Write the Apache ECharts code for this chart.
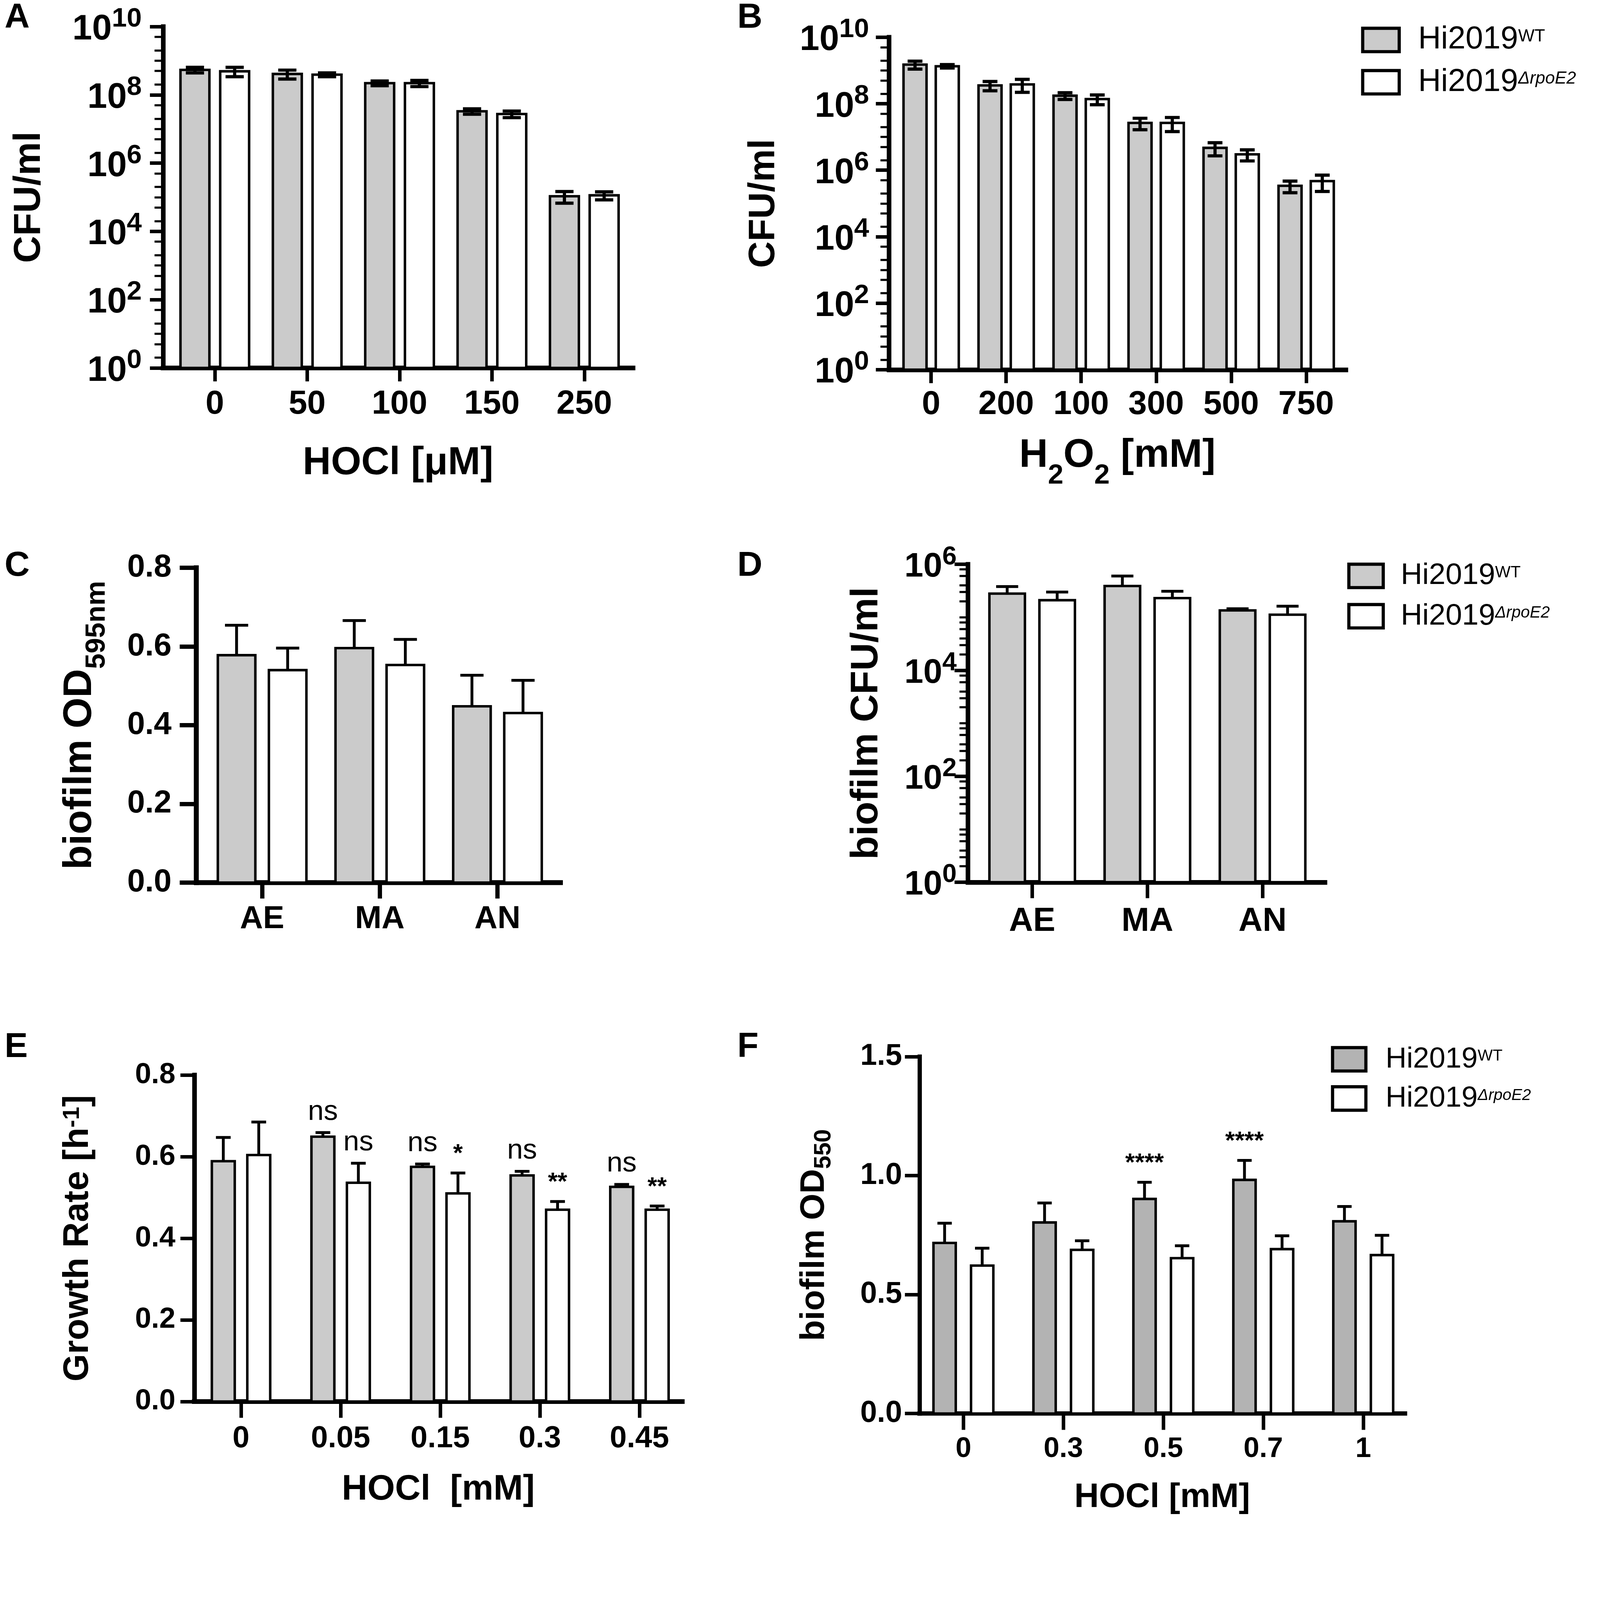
<!DOCTYPE html>
<html>
<head>
<meta charset="utf-8">
<title>Hi2019 stress panels</title>
<script src="https://cdn.jsdelivr.net/npm/echarts@6/dist/echarts.min.js"></script>
<style>
html, body { margin: 0; padding: 0; background: #fff; overflow: hidden; }
</style>
</head>
<body>
<div id="chart"></div>
<script>
var FONT = '"Liberation Sans", Arial, Helvetica, sans-serif';
var GRAY = '#cbcbcb';
var GRAY_F = '#b3b3b3';

// ---- data ----
var strainBase = 'Hi2019';
var strainTags = ['WT', 'ΔrpoE2'];
var strains = strainTags.map(function (t) { return strainBase + t; });

// A: HOCl [uM], CFU/ml
var dosesA = ['0', '50', '100', '150', '250'];
var wtA = [5.4e8, 4.1e8, 2.2e8, 3.3e7, 1.07e5];
var wtSdA = [1.0e8, 1.2e8, 0.35e8, 0.6e7, 0.4e5];
var koA = [4.9e8, 3.9e8, 2.2e8, 2.75e7, 1.14e5];
var koSdA = [1.5e8, 0.5e8, 0.45e8, 0.6e7, 0.3e5];

// B: H2O2 [mM], CFU/ml
var dosesB = ['0', '200', '100', '300', '500', '750'];
var wtB = [1.5e9, 3.55e8, 1.74e8, 2.65e7, 4.7e6, 3.4e5];
var wtSdB = [0.4e9, 1.1e8, 0.4e8, 1.0e7, 2.0e6, 1.3e5];
var koB = [1.34e9, 3.8e8, 1.38e8, 2.65e7, 3.0e6, 4.7e5];
var koSdB = [0.16e9, 1.6e8, 0.45e8, 1.2e7, 1.1e6, 2.4e5];

// C: biofilm OD595
var conditions = ['AE', 'MA', 'AN'];
var wtC = [0.578, 0.596, 0.448];
var wtSdC = [0.076, 0.070, 0.079];
var koC = [0.540, 0.553, 0.431];
var koSdC = [0.056, 0.065, 0.083];

// D: biofilm CFU/ml
var wtD = [2.8e5, 3.9e5, 1.35e5];
var wtSdD = [1.0e5, 2.1e5, 0.1e5];
var koD = [2.1e5, 2.3e5, 1.12e5];
var koSdD = [0.9e5, 0.8e5, 0.5e5];

// E: growth rate vs HOCl [mM]
var dosesE = ['0', '0.05', '0.15', '0.3', '0.45'];
var wtE = [0.589, 0.649, 0.575, 0.554, 0.526];
var wtSdE = [0.058, 0.010, 0.007, 0.010, 0.006];
var koE = [0.604, 0.536, 0.510, 0.470, 0.470];
var koSdE = [0.081, 0.048, 0.050, 0.020, 0.009];
var notesWtE = ['', 'ns', 'ns', 'ns', 'ns'];
var notesKoE = ['', 'ns', '*', '**', '**'];

// F: biofilm OD550 vs HOCl [mM]
var dosesF = ['0', '0.3', '0.5', '0.7', '1'];
var wtF = [0.717, 0.803, 0.902, 0.982, 0.808];
var wtSdF = [0.083, 0.082, 0.070, 0.082, 0.062];
var koF = [0.622, 0.688, 0.653, 0.691, 0.666];
var koSdF = [0.073, 0.038, 0.052, 0.056, 0.083];
var notesWtF = ['', '', '****', '****', ''];

var logTicksAB = [1, 1e2, 1e4, 1e6, 1e8, 1e10];
var logTicksD = [1, 1e2, 1e4, 1e6];

function minorTicks(maxExp, mantissas) {
    var out = [];
    for (var e = 0; e < maxExp; e++) {
        mantissas.forEach(function (m) { out.push(m * Math.pow(10, e)); });
        if (e % 2 === 0) out.push(Math.pow(10, e + 1));
    }
    return out;
}

// the figure is laid out on a 4514 x 4307 sheet and scaled to the window
var W0 = 4514, H0 = 4307;
var S = Math.min(window.innerWidth / W0, window.innerHeight / H0);
function z(v) { return v * S; }

var dom = document.getElementById('chart');
dom.style.width = Math.round(W0 * S) + 'px';
dom.style.height = Math.round(H0 * S) + 'px';

// ---- panel layout (sheet pixels) ----
var panels = [
    {L: 460, R: 1786, T: 75, B: 1038, t0: 606, step: 260.6, cats: dosesA, log: true, yMax: 1e10, ticks: logTicksAB,
     minor: minorTicks(10, [2, 5]), axisW: 13, tickW: 10, yTickLen: 37, xTickLen: 38, yLabMargin: 60, yLabSize: 100,
     xLabSize: 94, xLabMargin: 56, barW: 0.34, shift: 0.215, border: 7, errW: 9, both: true,
     wt: wtA, wtSd: wtSdA, ko: koA, koSd: koSdA, fill: GRAY,
     xName: 'HOCl [μM]', xNameSize: 110, xNameGap: 214,
     yName: 'CFU/ml', yNameSize: 106, yNameGap: 324},
    {L: 2508, R: 3797, T: 105, B: 1043, t0: 2627, step: 211.6, cats: dosesB, log: true, yMax: 1e10, ticks: logTicksAB,
     minor: minorTicks(10, [2, 5]), axisW: 13, tickW: 10, yTickLen: 37, xTickLen: 38, yLabMargin: 56, yLabSize: 100,
     xLabSize: 94, xLabMargin: 52, barW: 0.34, shift: 0.215, border: 7, errW: 9, both: true,
     wt: wtB, wtSd: wtSdB, ko: koB, koSd: koSdB, fill: GRAY,
     xName: '{m|H}{d|2}{m|O}{d|2}{m| [mM]}', xNameSize: 112, xNameGap: 187, xSubPad: 74,
     yName: 'CFU/ml', yNameSize: 104, yNameGap: 301},
    {L: 554, R: 1581, T: 1602, B: 2490, t0: 739.5, step: 332, cats: conditions, log: false, yMax: 0.8, interval: 0.2,
     axisW: 14, tickW: 12, yTickLen: 47, xTickLen: 45, yLabMargin: 70, yLabSize: 90,
     xLabSize: 90, xLabMargin: 58, barW: 0.34, shift: 0.217, border: 7, errW: 8, both: false,
     wt: wtC, wtSd: wtSdC, ko: koC, koSd: koSdC, fill: GRAY,
     yName: '{m|biofilm OD}{s|595nm}', yNameSize: 112, yNameGap: 241, ySubPad: 65},
    {L: 2731, R: 3738, T: 1592, B: 2489, t0: 2912, step: 325, cats: conditions, log: true, yMax: 1e6, ticks: logTicksD,
     minor: minorTicks(6, [2, 3, 4, 6, 8]), axisW: 13, tickW: 10, yTickLen: 38, xTickLen: 45, yLabMargin: 32, yLabSize: 96,
     xLabSize: 94, xLabMargin: 64, barW: 0.33, shift: 0.217, border: 7, errW: 8, both: false,
     wt: wtD, wtSd: wtSdD, ko: koD, koSd: koSdD, fill: GRAY,
     yName: 'biofilm CFU/ml', yNameSize: 109, yNameGap: 231},
    {L: 548, R: 1925, T: 3033, B: 3954, t0: 680, step: 281, cats: dosesE, log: false, yMax: 0.8, interval: 0.2,
     axisW: 13, tickW: 10, yTickLen: 39, xTickLen: 46, yLabMargin: 53, yLabSize: 82,
     xLabSize: 86, xLabMargin: 62, barW: 0.255, shift: 0.178, border: 7, errW: 8, both: false,
     wt: wtE, wtSd: wtSdE, ko: koE, koSd: koSdE, fill: GRAY, wtNotes: notesWtE, koNotes: notesKoE,
     xName: 'HOCl  [mM]', xNameSize: 100, xNameGap: 199,
     yName: '{n|Growth Rate [h}{p|-1}{n|]}', yNameSize: 100, yNameGap: 277},
    {L: 2594, R: 3964, T: 2981, B: 3988, t0: 2718, step: 282, cats: dosesF, log: false, yMax: 1.5, interval: 0.5,
     axisW: 12, tickW: 10, yTickLen: 41, xTickLen: 46, yLabMargin: 49, yLabSize: 85,
     xLabSize: 80, xLabMargin: 60, barW: 0.248, shift: 0.188, border: 7, errW: 8, both: false,
     wt: wtF, wtSd: wtSdF, ko: koF, koSd: koSdF, fill: GRAY_F, wtNotes: notesWtF,
     xName: 'HOCl [mM]', xNameSize: 96, xNameGap: 189,
     yName: '{m|biofilm OD}{s|550}', yNameSize: 96, yNameGap: 236, ySubPad: 41}
];

var letters = [
    {text: 'A', left: 13, top: 2}, {text: 'B', left: 2080, top: 2},
    {text: 'C', left: 13, top: 1548}, {text: 'D', left: 2080, top: 1548},
    {text: 'E', left: 13, top: 2906}, {text: 'F', left: 2080, top: 2906}
];

function barRenderer(p, fill, shift, notes) {
    var base = p.log ? 1 : 0;
    return function (params, api) {
        var x = api.value(0), m = api.value(1), sd = api.value(2);
        var top = api.coord([x, m]);
        var bottom = api.coord([x, base]);
        var unit = api.coord([x + 1, m])[0] - top[0];
        var cx = top[0] + shift * unit;
        var outer = p.barW * unit;
        var w = outer - z(p.border);
        var hi = api.coord([x, m + sd])[1];
        var lo = p.both ? api.coord([x, m - sd])[1] : top[1];
        var half = outer * 0.29;
        var err = {stroke: '#000', lineWidth: z(p.errW)};
        var kids = [
            {type: 'rect', shape: {x: cx - w / 2, y: top[1], width: w, height: bottom[1] - top[1]},
             style: {fill: fill, stroke: '#000', lineWidth: z(p.border)}},
            {type: 'line', shape: {x1: cx, y1: lo, x2: cx, y2: hi}, style: err},
            {type: 'line', shape: {x1: cx - half, y1: hi, x2: cx + half, y2: hi}, style: err}
        ];
        if (p.both) {
            kids.push({type: 'line', shape: {x1: cx - half, y1: lo, x2: cx + half, y2: lo}, style: err});
        }
        var note = notes && notes[params.dataIndex];
        if (note) {
            var star = note.charAt(0) === '*';
            kids.push({type: 'text', style: {text: note, x: cx, y: hi - z(18), align: 'center', verticalAlign: 'bottom',
                fill: '#000', fontFamily: FONT, fontSize: z(star ? 70 : 80), fontWeight: star ? 'bold' : 'normal'}});
        }
        return {type: 'group', children: kids};
    };
}

function bold(size, extra) {
    var st = {fontFamily: FONT, fontWeight: 'bold', fontSize: z(size), color: '#000'};
    for (var k in extra) st[k] = extra[k];
    return st;
}

var grids = [], xAxes = [], yAxes = [], series = [];

panels.forEach(function (p, i) {
    grids.push({left: z(p.L), top: z(p.T), width: z(p.R - p.L), height: z(p.B - p.T), containLabel: false});

    var idx = p.cats.map(function (c, k) { return k; });
    var xa = {
        type: 'value', gridIndex: i, position: 'bottom',
        min: (p.L - p.t0) / p.step, max: (p.R - p.t0) / p.step,
        axisLine: {onZero: false, lineStyle: {color: '#000', width: z(p.axisW), cap: 'square'}},
        axisTick: {customValues: idx, length: z(p.xTickLen), lineStyle: {color: '#000', width: z(p.tickW)}},
        axisLabel: bold(p.xLabSize, {customValues: idx, margin: z(p.xLabMargin),
            formatter: function (v) { return p.cats[Math.round(v)]; }}),
        splitLine: {show: false}
    };
    if (p.xName) {
        xa.name = p.xName;
        xa.nameLocation = 'middle';
        xa.nameGap = z(p.xNameGap);
        xa.nameTextStyle = bold(p.xNameSize, {rich: {
            m: bold(p.xNameSize, {lineHeight: z(p.xNameSize), verticalAlign: 'top'}),
            d: bold(p.xNameSize * 0.7, {padding: [z(p.xSubPad || 0), 0, 0, 0], verticalAlign: 'bottom'})
        }});
    }
    xAxes.push(xa);

    var mainY = yAxes.length;
    var ya = {
        type: p.log ? 'log' : 'value', gridIndex: i, position: 'left',
        min: p.log ? 1 : 0, max: p.yMax,
        axisLine: {show: true, onZero: false, lineStyle: {color: '#000', width: z(p.axisW), cap: 'square'}},
        axisTick: {length: z(p.yTickLen), lineStyle: {color: '#000', width: z(p.tickW)}},
        axisLabel: bold(p.yLabSize, {margin: z(p.yLabMargin)}),
        splitLine: {show: false},
        name: p.yName, nameLocation: 'middle', nameRotate: 90, nameGap: z(p.yNameGap),
        nameTextStyle: bold(p.yNameSize, {rich: {
            m: bold(p.yNameSize, {lineHeight: z(p.yNameSize), verticalAlign: 'top'}),
            s: bold(p.yNameSize * 0.7, {padding: [z(p.ySubPad || 0), 0, 0, 0], verticalAlign: 'bottom'}),
            n: bold(p.yNameSize, {lineHeight: z(p.yNameSize), verticalAlign: 'bottom'}),
            p: bold(p.yNameSize * 0.66, {verticalAlign: 'top'})
        }})
    };
    if (p.log) {
        ya.logBase = 10;
        ya.axisTick.customValues = p.ticks;
        ya.axisLabel.customValues = p.ticks;
        ya.axisLabel.formatter = function (v) {
            return '{b|10}{s|' + Math.round(Math.log10(v)) + '}';
        };
        ya.axisLabel.rich = {
            b: bold(p.yLabSize, {lineHeight: z(p.yLabSize), verticalAlign: 'bottom'}),
            s: bold(p.yLabSize * 0.76, {padding: [0, 0, z(p.yLabSize * 0.42), 0], verticalAlign: 'top'})
        };
    } else {
        ya.interval = p.interval;
        ya.axisLabel.formatter = function (v) { return v.toFixed(1); };
    }
    yAxes.push(ya);

    if (p.log) {
        // short minor ticks on a bare overlay axis
        yAxes.push({
            type: 'log', logBase: 10, gridIndex: i, position: 'left', min: 1, max: p.yMax,
            axisLine: {show: false, onZero: false},
            axisTick: {customValues: p.minor, length: z(24), lineStyle: {color: '#000', width: z(6)}},
            axisLabel: {show: false}, splitLine: {show: false}
        });
    }

    [[p.wt, p.wtSd, p.fill, -p.shift, p.wtNotes], [p.ko, p.koSd, '#fff', p.shift, p.koNotes]].forEach(function (s, k) {
        series.push({
            type: 'custom', name: strains[k], xAxisIndex: i, yAxisIndex: mainY,
            data: s[0].map(function (m, j) { return [j, m, s[1][j]]; }),
            encode: {x: 0, y: 1},
            itemStyle: {color: s[2], borderColor: '#000', borderWidth: z(7)},
            renderItem: barRenderer(p, s[2], s[3], s[4]),
            silent: true
        });
    });
});

function legendFor(left, top, iw, ih, gap, fs, pad, gray) {
    return {
        orient: 'vertical', left: z(left), top: z(top), itemWidth: z(iw), itemHeight: z(ih), itemGap: z(gap),
        icon: 'rect', selectedMode: false, padding: 0,
        itemStyle: {borderColor: '#000', borderWidth: z(9)},
        data: [{name: strains[0], itemStyle: {color: gray, borderColor: '#000', borderWidth: z(9)}},
               {name: strains[1], itemStyle: {color: '#fff', borderColor: '#000', borderWidth: z(9)}}],
        formatter: function (name) {
            var k = strains.indexOf(name);
            return '{b|' + strainBase + '}{' + (k === 0 ? 's' : 'i') + '|' + strainTags[k] + '}';
        },
        textStyle: {
            color: '#000', fontFamily: FONT, fontSize: z(fs),
            rich: {
                b: {fontFamily: FONT, color: '#000', fontSize: z(fs), lineHeight: z(fs),
                    padding: [0, 0, 0, z(pad)], verticalAlign: 'bottom'},
                s: {fontFamily: FONT, color: '#000', fontSize: z(fs * 0.55),
                    padding: [z(fs * 0.12), 0, 0, 0], verticalAlign: 'top'},
                i: {fontFamily: FONT, color: '#000', fontSize: z(fs * 0.55), fontStyle: 'italic',
                    padding: [z(fs * 0.12), 0, 0, 0], verticalAlign: 'top'}
            }
        }
    };
}

var option = {
    animation: false,
    backgroundColor: '#fff',
    textStyle: {fontFamily: FONT},
    title: letters.map(function (l) {
        return {text: l.text, left: z(l.left), top: z(l.top), padding: 0,
            textStyle: bold(98, {})};
    }),
    legend: [
        legendFor(3840, 68, 103, 66, 30, 89, 48, GRAY),
        legendFor(3801, 1583, 97, 66, 30, 84, 44, GRAY),
        legendFor(3755, 2948, 94, 66, 29, 82, 50, GRAY_F)
    ],
    grid: grids,
    xAxis: xAxes,
    yAxis: yAxes,
    series: series
};

var chart = echarts.init(dom, null, {renderer: 'canvas'});
chart.setOption(option);
</script>
</body>
</html>
